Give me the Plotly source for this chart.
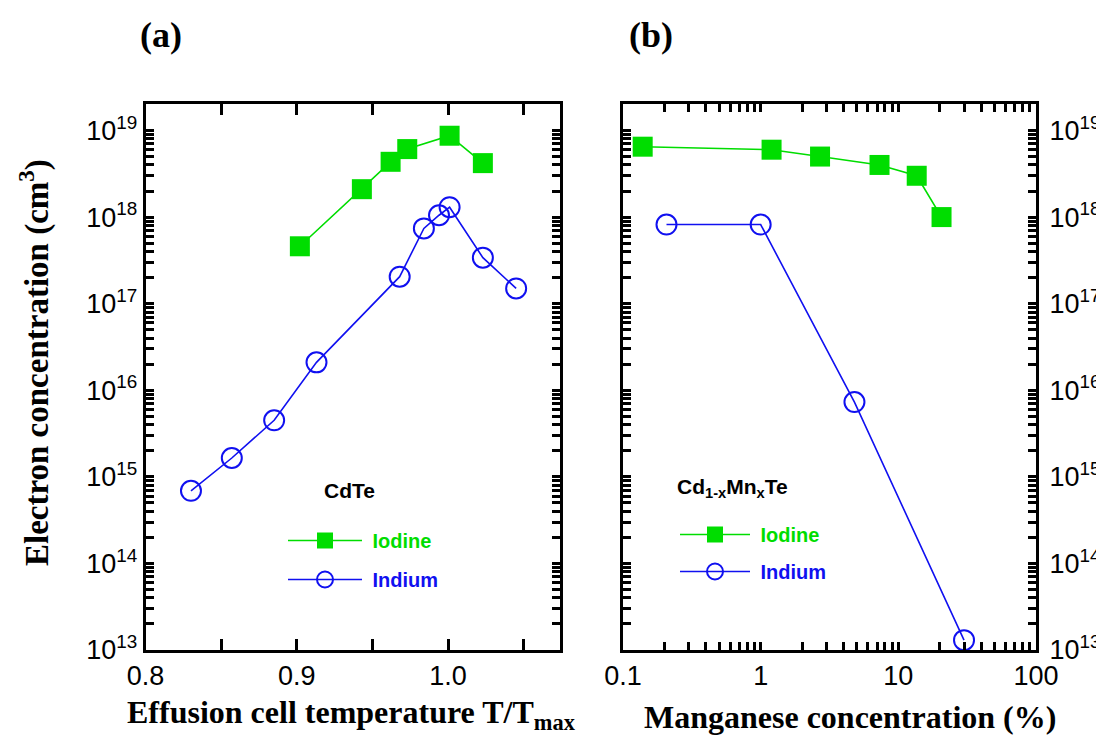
import numpy as np
import plotly.graph_objects as go

# ---------------- data ----------------
# Panel (a): CdTe, x = T/Tmax
a_iodine_x = [0.902, 0.943, 0.962, 0.973, 1.001, 1.023]
a_iodine_y = [4.6e17, 2.1e18, 4.35e18, 6.1e18, 8.7e18, 4.2e18]
a_indium_x = [0.830, 0.857, 0.885, 0.913, 0.968, 0.984, 0.994, 1.001, 1.023, 1.045]
a_indium_y = [6.9e14, 1.65e15, 4.5e15, 2.1e16, 2.05e17, 7.4e17, 1.05e18, 1.3e18, 3.4e17, 1.5e17]

# Panel (b): Cd1-xMnxTe, x = Mn concentration (%)
b_iodine_x = [0.139, 1.2, 2.7, 7.3, 13.6, 20.6]
b_iodine_y = [6.5e18, 6.0e18, 5.0e18, 4.0e18, 3.0e18, 1.0e18]
b_indium_x = [0.207, 1.0, 4.8, 30.0]
b_indium_y = [8.2e17, 8.2e17, 7.3e15, 1.3e13]

# tick labels
y_tickvals = [1e13, 1e14, 1e15, 1e16, 1e17, 1e18, 1e19]
y_ticktext = ["10<sup>13</sup>", "10<sup>14</sup>", "10<sup>15</sup>", "10<sup>16</sup>",
              "10<sup>17</sup>", "10<sup>18</sup>", "10<sup>19</sup>"]
a_x_tickvals = [0.8, 0.9, 1.0]
a_x_ticktext = ["0.8", "0.9", "1.0"]
a_x_minor = [0.85, 0.95, 1.05]
b_x_tickvals = [0.1, 1, 10, 100]
b_x_ticktext = ["0.1", "1", "10", "100"]

# minor tick positions (2..9 within each decade)
y_minor = [k * 10.0 ** d for d in range(13, 20) for k in range(2, 10) if k * 10.0 ** d < 2.0e19]
b_x_minor = [k * 10.0 ** d for d in range(-1, 2) for k in range(2, 10)]

GREEN = "#00dd00"
BLUE = "#1010f0"

W, H = 1104, 736
def px_x(p):
    return p / W
def px_y(p):
    return 1 - p / H

fig = go.Figure()

def add_pair(xa, ya, xi, yi, xref, yref, legend):
    fig.add_trace(go.Scatter(
        x=xa, y=ya, xaxis=xref, yaxis=yref, mode="lines+markers",
        name="<b>&nbsp;<span style='color:%s'>Iodine</span></b>" % GREEN,
        line=dict(color=GREEN, width=1.6),
        marker=dict(symbol="square", size=20, color=GREEN),
        legend=legend, legendgroup=legend + "i", cliponaxis=False))
    fig.add_trace(go.Scatter(
        x=xi, y=yi, xaxis=xref, yaxis=yref, mode="lines+markers",
        name="<b>&nbsp;<span style='color:%s'>Indium</span></b>" % BLUE,
        line=dict(color=BLUE, width=1.6),
        marker=dict(symbol="circle-open", size=20, color=BLUE, line=dict(width=2)),
        legend=legend, legendgroup=legend + "n", cliponaxis=False))

add_pair(a_iodine_x, a_iodine_y, a_indium_x, a_indium_y, "x", "y", "legend")
add_pair(b_iodine_x, b_iodine_y, b_indium_x, b_indium_y, "x2", "y2", "legend2")

sans = "Liberation Sans, Arial, sans-serif"
serif = "Liberation Serif, Times New Roman, serif"
tickfont = dict(family=sans, size=27, color="black")

common = dict(showline=True, linecolor="black", linewidth=3, mirror="allticks",
              ticks="inside", ticklen=8, tickwidth=3, tickcolor="black",
              showgrid=False, zeroline=False, tickfont=tickfont, automargin=False,
              tickmode="array")
major_common = dict(showline=False, mirror="allticks", ticks="inside", ticklen=13,
                    tickwidth=3.5, tickcolor="black", showticklabels=False,
                    showgrid=False, zeroline=False, automargin=False, tickmode="array")

y_all_vals = y_tickvals + y_minor
y_all_text = y_ticktext + [""] * len(y_minor)
a_all_vals = a_x_tickvals + a_x_minor
a_all_text = a_x_ticktext + [""] * len(a_x_minor)
b_all_vals = b_x_tickvals + b_x_minor
b_all_text = b_x_ticktext + [""] * len(b_x_minor)

ydom = [px_y(642), px_y(96)]
yrange = [13, 19.306]
xa_range = [0.8, 1.074]
xb_range = [-1, 2]

fig.update_layout(
    width=W, height=H, plot_bgcolor="white", paper_bgcolor="white",
    font=dict(color="black", family=sans),
    margin=dict(l=0, r=0, t=0, b=0),
    xaxis=dict(domain=[px_x(137.6), px_x(552)], anchor="y", range=xa_range,
               tickvals=a_all_vals, ticktext=a_all_text,
               ticklabelstandoff=0, **{**common, "ticklen": 11}),
    yaxis=dict(domain=ydom, anchor="x", type="log", range=yrange,
               tickvals=y_all_vals, ticktext=y_all_text,
               ticklabelstandoff=0, **common),
    xaxis2=dict(domain=[px_x(615), px_x(1028)], anchor="y2", type="log", range=xb_range,
                tickvals=b_all_vals, ticktext=b_all_text,
                ticklabelstandoff=0, **common),
    yaxis2=dict(domain=ydom, anchor="x2", side="right", type="log", range=yrange,
                tickvals=y_all_vals, ticktext=y_all_text,
                ticklabelstandoff=5, **common),
    xaxis3=dict(overlaying="x", anchor="y", side="bottom", range=xa_range,
                tickvals=a_x_tickvals, **major_common),
    yaxis3=dict(overlaying="y", anchor="x", side="left", type="log", range=yrange,
                tickvals=y_tickvals, **major_common),
    xaxis4=dict(overlaying="x2", anchor="y2", side="bottom", type="log", range=xb_range,
                tickvals=b_x_tickvals, **major_common),
    yaxis4=dict(overlaying="y2", anchor="x2", side="right", type="log", range=yrange,
                tickvals=y_tickvals, **major_common),
    showlegend=True,
    legend=dict(x=px_x(275), y=px_y(513), xanchor="left", yanchor="top",
                bgcolor="rgba(0,0,0,0)", itemwidth=74, tracegroupgap=10,
                font=dict(family=sans, size=20),
                itemclick=False, itemdoubleclick=False),
    legend2=dict(x=px_x(667), y=px_y(507), xanchor="left", yanchor="top",
                 bgcolor="rgba(0,0,0,0)", itemwidth=70, tracegroupgap=8,
                 font=dict(family=sans, size=20),
                 itemclick=False, itemdoubleclick=False),
)

ann = [
    dict(text="<b>(a)</b>", x=px_x(153), y=px_y(27), font=dict(family=serif, size=36)),
    dict(text="<b>(b)</b>", x=px_x(643), y=px_y(27), font=dict(family=serif, size=36)),
    dict(text="<b>Electron concentration (cm<sup>3</sup>)</b>", x=px_x(26), y=px_y(355),
         textangle=-90, font=dict(family=serif, size=33)),
    dict(text="<b>Effusion cell temperature T/T<sub>max</sub></b>", x=px_x(343), y=px_y(706),
         font=dict(family=serif, size=32)),
    dict(text="<b>Manganese concentration (%)</b>", x=px_x(842), y=px_y(709),
         font=dict(family=serif, size=32)),
    dict(text="<b>CdTe</b>", x=px_x(341), y=px_y(482), font=dict(family=sans, size=21)),
    dict(text="<b>Cd<sub>1-x</sub>Mn<sub>x</sub>Te</b>", x=px_x(724), y=px_y(480),
         font=dict(family=sans, size=21)),
]
for a in ann:
    a.update(xref="paper", yref="paper", showarrow=False, xanchor="center", yanchor="middle")
fig.update_layout(annotations=ann)

fig.write_html("out.html")
